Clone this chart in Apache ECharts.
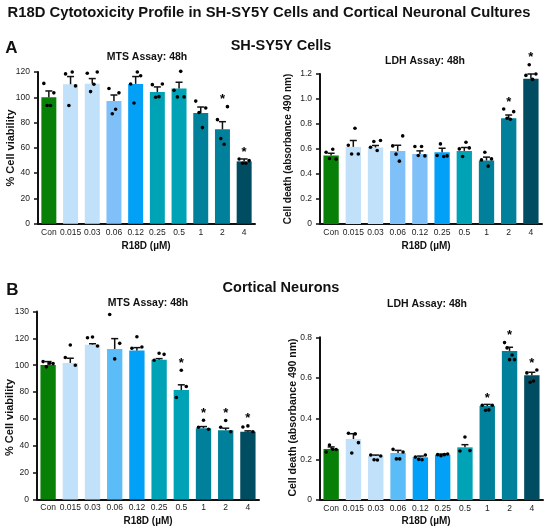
<!DOCTYPE html>
<html>
<head>
<meta charset="utf-8">
<script src="https://cdn.jsdelivr.net/npm/echarts@6/dist/echarts.min.js"></script>
<style>
  html, body { margin: 0; padding: 0; background: #fff; }
  #chart { width: 550px; height: 532px; }
</style>
</head>
<body>
<div id="chart"></div>
<script>
// doses on the x axis (same for all four panels)
const categories = ['Con', '0.015', '0.03', '0.06', '0.12', '0.25', '0.5', '1', '2', '4'];

// y tick labels
const ticksMtsSH = ['0', '20', '40', '60', '80', '100', '120'];
const ticksLdhSH = ['0', '0.2', '0.4', '0.6', '0.8', '1.0', '1.2'];
const ticksMtsCx = ['0', '20', '40', '60', '80', '100', '120', '130'];
const ticksLdhCx = ['0', '0.2', '0.4', '0.6', '0.8'];

// A - SH-SY5Y, MTS (% cell viability)
const mtsSHMean = [100, 110.3, 110.8, 97.1, 110.6, 104.2, 106.9, 87.6, 74.7, 49.3];
const mtsSHSem = [5, 6.1, 4, 4.7, 5.8, 4, 5, 4.7, 6, 1.9];
const mtsSHDots = [
  [111, 93.5, 93.5, 103.5], [118.5, 93.5, 120, 109], [119, 104.5, 110.3, 120],
  [107, 87, 90.5, 103.5], [110.5, 95.5, 120, 117], [110, 100, 100.5, 110.5],
  [105.5, 100.3, 120.5, 100.3], [97, 88, 76, 91.5], [82.3, 67.3, 62.8, 92.6],
  [51.2, 47.8, 47.8, 49.9]
];
const mtsSHSig = [8, 9];

// A - SH-SY5Y, LDH (absorbance 490 nm)
const ldhSHMean = [0.548, 0.617, 0.612, 0.585, 0.561, 0.574, 0.585, 0.508, 0.846, 1.162];
const ldhSHSem = [0.018, 0.051, 0.016, 0.045, 0.024, 0.032, 0.027, 0.027, 0.026, 0.038];
const ldhSHDots = [
  [0.574, 0.524, 0.598, 0.519], [0.63, 0.56, 0.766, 0.56], [0.614, 0.66, 0.588, 0.668],
  [0.625, 0.559, 0.503, 0.705], [0.62, 0.548, 0.62, 0.545], [0.548, 0.641, 0.54, 0.545],
  [0.601, 0.54, 0.654, 0.609], [0.513, 0.574, 0.463, 0.521], [0.92, 0.846, 0.838, 0.899],
  [1.189, 1.274, 1.157, 1.2]
];
const ldhSHSig = [8, 9];

// B - cortical neurons, MTS
const mtsCxMean = [100.2, 101.7, 115.3, 112.1, 110.9, 104, 81.5, 53.1, 51.6, 50.4];
const mtsCxSem = [2.5, 3.5, 0.7, 7.7, 2.2, 0.9, 3.9, 1.2, 1.5, 0.7];
const mtsCxDots = [
  [102.7, 98.8, 101.5, 101.2], [105.7, 115, 100], [120.5, 121, 114.3],
  [137.8, 104.7, 116.3], [112.6, 121.2, 113.6], [103.7, 108.9, 108.1],
  [76, 96.3, 84.2], [53.8, 59, 52.3], [53.8, 58.8, 50.4], [54, 54.8, 50.4]
];
const mtsCxSig = [6, 7, 8, 9];

// B - cortical neurons, LDH
const ldhCxMean = [0.251, 0.3, 0.218, 0.231, 0.21, 0.223, 0.259, 0.462, 0.733, 0.613];
const ldhCxSem = [0.01, 0.026, 0.003, 0.013, 0.006, 0.003, 0.013, 0.008, 0.018, 0.015];
const ldhCxDots = [
  [0.236, 0.27, 0.249, 0.248], [0.328, 0.231, 0.325, 0.282], [0.221, 0.198, 0.197, 0.216],
  [0.249, 0.202, 0.202, 0.236], [0.211, 0.2, 0.198, 0.221], [0.223, 0.218, 0.223, 0.226],
  [0.241, 0.31, 0.243], [0.466, 0.441, 0.443, 0.466], [0.774, 0.748, 0.69, 0.713, 0.69],
  [0.625, 0.579, 0.585, 0.639]
];
const ldhCxSig = [7, 8, 9];

// bar colours
const G = '#088008', L = '#c1e0f9', M = '#80c0f8', M2 = '#5cbcf8',
      BR = '#02a0f7', T = '#00a2b6', D = '#00809a', DK = '#004c61';
const colorsA1 = [G, L, L, M, BR, T, T, D, D, DK];
const colorsA2 = [G, L, L, M, M, BR, T, D, D, DK];
const colorsB1 = [G, L, L, M2, BR, T, T, D, D, DK];
const colorsB2 = [G, L, L, M2, BR, BR, T, D, D, DK];

const FONT = '"Liberation Sans", Arial, Helvetica, sans-serif';
const INK = '#111';

function makeSeries(idx, means, sems, dots, sig, colors) {
  const bars = {
    type: 'bar', xAxisIndex: idx, yAxisIndex: idx, barWidth: '69%', silent: true, z: 2,
    data: means.map((v, i) => ({ value: v, itemStyle: { color: colors[i] } }))
  };
  const errs = {
    type: 'custom', xAxisIndex: idx, yAxisIndex: idx, silent: true, z: 3,
    data: means.map((v, i) => [i, v, v + sems[i]]),
    renderItem: (params, api) => {
      const lo = api.coord([api.value(0), api.value(1)]);
      const hi = api.coord([api.value(0), api.value(2)]);
      const st = { stroke: INK, lineWidth: 1.5 };
      return { type: 'group', children: [
        { type: 'line', shape: { x1: lo[0], y1: lo[1], x2: hi[0], y2: hi[1] }, style: st },
        { type: 'line', shape: { x1: hi[0] - 3.5, y1: hi[1], x2: hi[0] + 3.5, y2: hi[1] }, style: st }
      ] };
    }
  };
  const pts = [];
  dots.forEach((list, i) => list.forEach((v, k) => pts.push([i, v, k, list.length])));
  const scatter = {
    type: 'custom', xAxisIndex: idx, yAxisIndex: idx, silent: true, z: 4,
    data: pts,
    renderItem: (params, api) => {
      const p = api.coord([api.value(0), api.value(1)]);
      const n = api.value(3), k = api.value(2);
      const dx = n > 1 ? -5 + 10 * k / (n - 1) : 0;
      return { type: 'circle', shape: { cx: p[0] + dx, cy: p[1], r: 1.8 }, style: { fill: '#000' } };
    }
  };
  const stars = {
    type: 'custom', xAxisIndex: idx, yAxisIndex: idx, silent: true, z: 5,
    data: sig.map(i => [i, Math.max.apply(null, dots[i])]),
    renderItem: (params, api) => {
      const p = api.coord([api.value(0), api.value(1)]);
      return { type: 'text', x: p[0], y: p[1] - 7,
        style: { text: '*', fill: '#000', font: 'bold 13px ' + FONT, align: 'center', verticalAlign: 'middle' } };
    }
  };
  return [bars, errs, scatter, stars];
}

function yAxis(idx, max, interval, labels) {
  return {
    type: 'value', gridIndex: idx, min: 0, max: max, interval: interval,
    splitLine: { show: false },
    axisLine: { show: true, lineStyle: { color: INK, width: 2 } },
    axisTick: { show: true, length: 4, lineStyle: { color: INK, width: 1.5 } },
    axisLabel: { fontSize: 8.5, color: '#222', fontFamily: FONT, margin: 8,
      formatter: v => labels[Math.round(v / interval)] }
  };
}

function xAxis(idx) {
  return {
    type: 'category', gridIndex: idx, data: categories,
    axisLine: { show: true, lineStyle: { color: INK, width: 2 } },
    axisTick: { show: false },
    axisLabel: { fontSize: 8.5, color: '#222', fontFamily: FONT, margin: 4, interval: 0 }
  };
}

function txt(text, x, y, size, rot) {
  return { type: 'text', x: x, y: y, rotation: rot || 0,
    style: { text: text, fill: '#111', font: 'bold ' + size + 'px ' + FONT, align: 'center', verticalAlign: 'middle' } };
}

const chart = echarts.init(document.getElementById('chart'));
chart.setOption({
  animation: false,
  backgroundColor: '#fff',
  grid: [
    { left: 38, top: 72, width: 217, height: 151.7 },
    { left: 320, top: 74, width: 222, height: 150 },
    { left: 37, top: 311.5, width: 222, height: 188 },
    { left: 320, top: 337.3, width: 223, height: 162.7 }
  ],
  xAxis: [xAxis(0), xAxis(1), xAxis(2), xAxis(3)],
  yAxis: [
    yAxis(0, 120, 20, ticksMtsSH),
    yAxis(1, 1.2, 0.2, ticksLdhSH),
    yAxis(2, 140, 20, ticksMtsCx),
    yAxis(3, 0.8, 0.2, ticksLdhCx)
  ],
  series: [].concat(
    makeSeries(0, mtsSHMean, mtsSHSem, mtsSHDots, mtsSHSig, colorsA1),
    makeSeries(1, ldhSHMean, ldhSHSem, ldhSHDots, ldhSHSig, colorsA2),
    makeSeries(2, mtsCxMean, mtsCxSem, mtsCxDots, mtsCxSig, colorsB1),
    makeSeries(3, ldhCxMean, ldhCxSem, ldhCxDots, ldhCxSig, colorsB2)
  ),
  graphic: [
    txt('R18D Cytotoxicity Profile in SH-SY5Y Cells and Cortical Neuronal Cultures', 269, 13, 14.8),
    txt('A', 11.5, 48, 17),
    txt('SH-SY5Y Cells', 281, 46, 14.5),
    txt('MTS Assay: 48h', 147, 57, 10.5),
    txt('LDH Assay: 48h', 425, 61, 10.5),
    txt('% Cell viability', 11, 148, 11, Math.PI / 2),
    txt('Cell death (absorbance 490 nm)', 288, 149, 10, Math.PI / 2),
    txt('R18D (µM)', 146, 246, 10),
    txt('R18D (µM)', 426, 246, 10),
    txt('B', 12.5, 290, 17),
    txt('Cortical Neurons', 281, 287.5, 14.5),
    txt('MTS Assay: 48h', 148, 302.7, 10.5),
    txt('LDH Assay: 48h', 427, 304.3, 10.5),
    txt('% Cell viability', 10, 417.5, 11, Math.PI / 2),
    txt('Cell death (absorbance 490 nm)', 293, 417.5, 10.5, Math.PI / 2),
    txt('R18D (µM)', 148, 521, 10),
    txt('R18D (µM)', 426, 521, 10)
  ]
});
</script>
</body>
</html>
